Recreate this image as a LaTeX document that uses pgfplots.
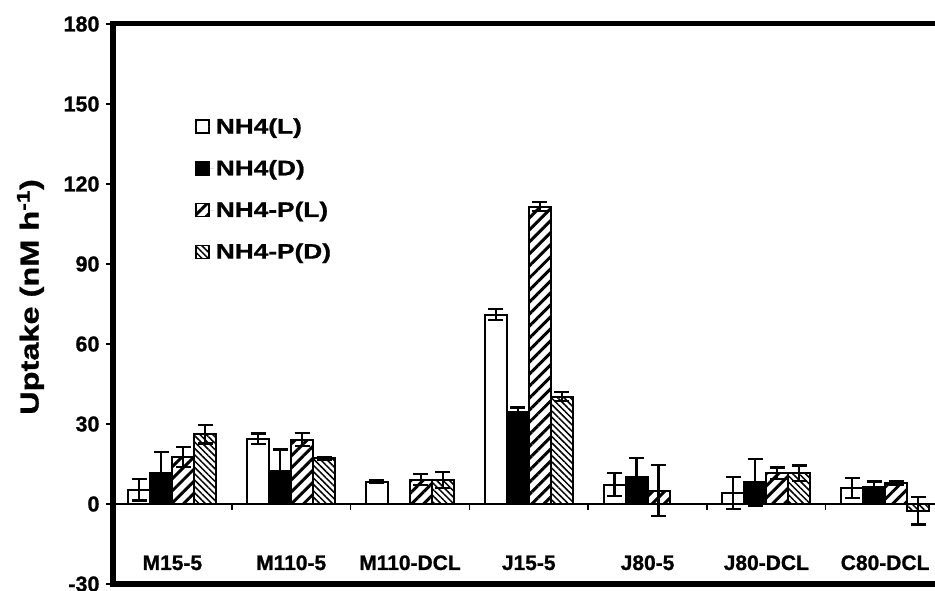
\documentclass[border=0pt]{standalone}
\usepackage{fontspec}
\setmainfont{Liberation Sans}[BoldFeatures={FakeBold=1}]
\newfontfamily\widefont[FakeStretch=1.25, BoldFeatures={FakeBold=1}]{Liberation Sans}
\usepackage{pgfplots}
\usepackage{pgfplotstable}
\pgfplotsset{compat=1.18}
\usetikzlibrary{patterns.meta}

\pgfplotstableread{
x y e
0 5.3 4
1 24.4 2
2 8.3 0.5
3 71 2
4 7.3 4.2
5 4 6
6 6 3.7
}\nhL
\pgfplotstableread{
x y e
0 11.5 8
1 12.2 8.2
2 nan 0
3 34.4 1.8
4 10.3 6.8
5 8.1 8.8
6 6.5 1.9
}\nhD
\pgfplotstableread{
x y e
0 17.7 3.8
1 24.1 2.5
2 9.1 2.1
3 111.5 1.6
4 5.0 9.5
5 11.5 2.2
6 7.9 0.6
}\nhpL
\pgfplotstableread{
x y e
0 26.2 3.5
1 17.1 0.5
2 9.1 3
3 40.2 1.7
4 nan 0
5 11.5 2.9
6 -2.5 5.2
}\nhpD

\pgfplotsset{
  legimg/.style={legend image code/.code={\draw[##1, line width=1.5bp, draw=black] (0bp,-6.5bp) rectangle (13bp,6.5bp); \path[draw=none] (0bp,0bp) -- (18bp,0bp);}},
}

\begin{document}
\begin{tikzpicture}
\begin{axis}[
  scale only axis, width=822bp, height=560bp,
  at={(0,0)}, anchor=south west,
  clip=false,
  xmin=-0.5, xmax=6.42, ymin=-30, ymax=180,
  axis line style={draw=none},
  ybar=0pt, bar width=22bp,
  xtick={0,...,6},
  xticklabels={M15-5,M110-5,M110-DCL,J15-5,J80-5,J80-DCL,C80-DCL},
  x tick style={draw=none},
  x tick label style={font=\fontsize{21bp}{24bp}\selectfont\bfseries, anchor=base, yshift=21bp},
  ytick={-30,0,30,60,90,120,150,180},
  yticklabels={-30,0,30,60,90,120,150,180},
  ytick pos=left, tick align=outside, major tick length=7bp,
  y tick style={line width=2bp, black},
  y tick label style={font=\fontsize{21.5bp}{24bp}\selectfont\bfseries, xshift=-3bp},
  ylabel={Uptake (nM h\textsuperscript{-1})},
  ylabel style={font=\widefont\fontsize{26bp}{30bp}\selectfont\bfseries, at={(axis description cs:-0.1004,0.5125)}, anchor=center},
  legend style={at={(axis description cs:0.096,0.839)}, anchor=north west, draw=none, fill=none,
    font=\widefont\fontsize{21bp}{25bp}\selectfont\bfseries, row sep=21bp},
  legend cell align=left,
  error bars/y dir=both, error bars/y explicit,
  error bars/error bar style={line width=2.2bp, black},
  error bars/error mark options={rotate=90, mark size=7.5bp, line width=2.2bp, black},
]
\draw[line width=2bp] (axis cs:-0.5,0) -- (axis cs:6.42,0);
\pgfplotsinvokeforeach{0.5,1.5,2.5,3.5,4.5,5.5}{
  \draw[line width=1.5bp] (axis cs:#1,0) -- ([yshift=-6bp]axis cs:#1,0);
}
\addplot[draw=black, line width=2bp, fill=white, legimg] table[x=x, y=y, y error=e]{\nhL};
\addlegendentry{NH4(L)}
\addplot[draw=black, line width=2bp, fill=black, legimg] table[x=x, y=y, y error=e]{\nhD};
\addlegendentry{NH4(D)}
\addplot[draw=black, line width=2bp, pattern={Lines[angle=45, distance=8.5bp, line width=3bp]}, legimg] table[x=x, y=y, y error=e]{\nhpL};
\addlegendentry{NH4-P(L)}
\addplot[draw=black, line width=2bp, pattern={Lines[angle=-45, distance=4.5bp, line width=1.5bp]}, legimg] table[x=x, y=y, y error=e]{\nhpD};
\addlegendentry{NH4-P(D)}
\end{axis}
\draw[line width=5bp] (822bp,560bp) -- (0,560bp) -- (0,0) -- (822bp,0);
\pgfresetboundingbox
\path[use as bounding box] (-113bp,-7bp) rectangle (822bp,584bp);
\end{tikzpicture}
\end{document}
